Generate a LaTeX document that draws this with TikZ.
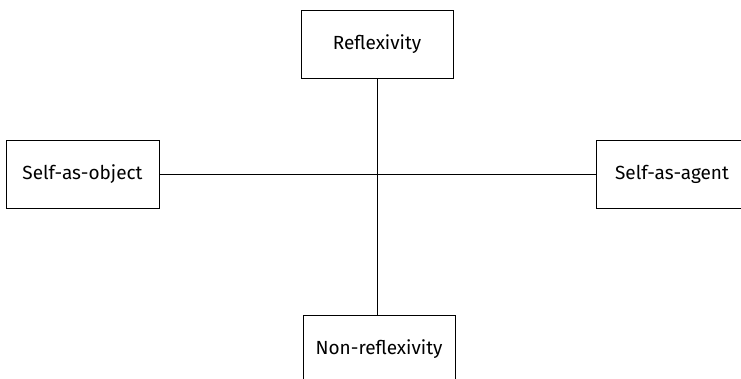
\documentclass[tikz,border=0pt]{standalone}
\usepackage{fontspec}
\setmainfont{Fira Sans}
\begin{document}
\begin{tikzpicture}[x=1pt,y=-1pt,
  box/.style={draw, line width=1pt, minimum width=152pt, minimum height=68pt, inner sep=0pt, font=\fontsize{19}{22}\selectfont},
  link/.style={draw, line width=1pt}]
\useasboundingbox (0,0) rectangle (741,378);
\clip (0,0) rectangle (741,378);
\node[box] (top) at (377,44) {Reflexivity};
\node[box, minimum width=153pt] (left) at (82.5,174) {Self-as-object};
\node[box] (right) at (672,174) {Self-as-agent};
\node[box] (bottom) at (379,349) {Non-reflexivity};
\draw[link] (top.south) -- (top.south |- bottom.north);
\draw[link] (left.east) -- (right.west);
\end{tikzpicture}
\end{document}
